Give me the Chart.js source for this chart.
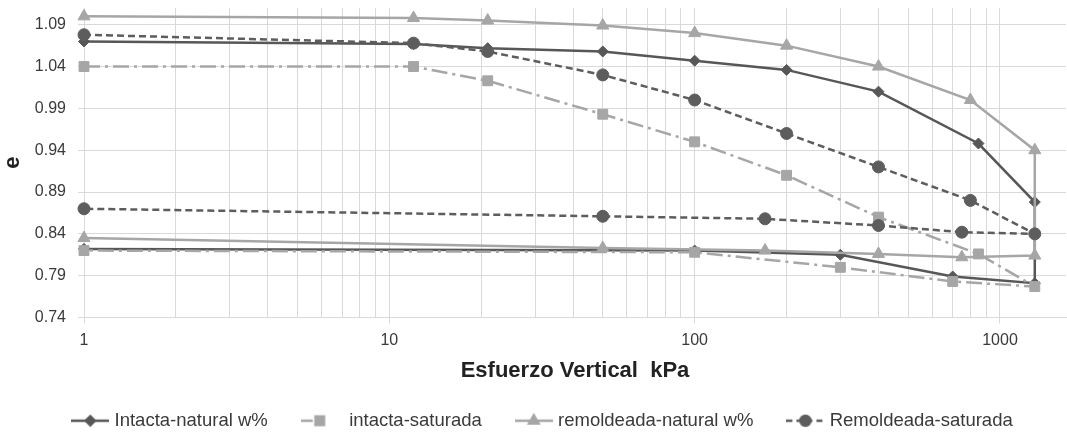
<!DOCTYPE html>
<html>
<head>
<meta charset="utf-8">
<script src="https://cdn.jsdelivr.net/npm/chart.js@4.4.1/dist/chart.umd.min.js"></script>
<style>
html,body{margin:0;padding:0;background:#fff;}
#wrap{width:1067px;height:432px;}
</style>
</head>
<body>
<div id="wrap"><canvas id="c" width="1067" height="432"></canvas></div>
<script>
// ---- data ----
const seriesNames = ['Intacta-natural w%', ' intacta-saturada', 'remoldeada-natural w%', 'Remoldeada-saturada'];

const xIntactaNatural = [1, 12, 21, 50, 100, 200, 400, 850, 1300, 1300, 700, 300, 100, 1];
const yIntactaNatural = [1.07, 1.067, 1.062, 1.058, 1.047, 1.036, 1.01, 0.948, 0.878, 0.781, 0.789, 0.815, 0.82, 0.822];

const xIntactaSaturada = [1, 12, 21, 50, 100, 200, 400, 850, 1300, 700, 300, 100, 1];
const yIntactaSaturada = [1.04, 1.04, 1.023, 0.983, 0.95, 0.91, 0.86, 0.816, 0.777, 0.783, 0.80, 0.818, 0.82];

const xRemoldeadaNatural = [1, 12, 21, 50, 100, 200, 400, 800, 1300, 1300, 750, 400, 170, 50, 1];
const yRemoldeadaNatural = [1.10, 1.098, 1.095, 1.089, 1.08, 1.065, 1.04, 1.0, 0.94, 0.814, 0.812, 0.816, 0.82, 0.823, 0.835];

const xRemoldeadaSaturada = [1, 12, 21, 50, 100, 200, 400, 800, 1300, 750, 400, 170, 50, 1];
const yRemoldeadaSaturada = [1.078, 1.068, 1.058, 1.03, 1.0, 0.96, 0.92, 0.88, 0.84, 0.842, 0.85, 0.858, 0.861, 0.87];

const yTickValues = [0.74, 0.79, 0.84, 0.89, 0.94, 0.99, 1.04, 1.09];
const xGridValues = [1, 2, 3, 4, 5, 6, 7, 8, 9, 10, 20, 30, 40, 50, 60, 70, 80, 90, 100, 200, 300, 400, 500, 600, 700, 800, 900, 1000];
const xTickLabels = [1, 10, 100, 1000];

const xTitle = 'Esfuerzo Vertical  kPa';
const yTitle = 'e';

// ---- styles ----
const DARK = '#575757';
const DARK2 = '#5d5d5d';
const LIGHT = '#a6a6a6';
const GRID = '#d9d9d9';
const TEXT = '#3a3a3a';

const pts = (xs, ys) => xs.map((x, i) => ({x: x, y: ys[i]}));

const styles = [
  {color: DARK, dash: [], point: 'rectRot', r: 5.5, lr: 4.5},
  {color: LIGHT, dash: [16, 5, 3, 5], point: 'rect', r: 7, lr: 6},
  {color: LIGHT, dash: [], point: 'triangle', r: 7, lr: 5.5},
  {color: DARK2, dash: [7, 4], point: 'circle', r: 6, lr: 5}
];

const ICON_W = 38;
function makeIcon(s, legendDash) {
  const c = document.createElement('canvas');
  c.width = ICON_W; c.height = 16;
  const g = c.getContext('2d');
  g.strokeStyle = s.color;
  g.lineWidth = 2.5;
  g.setLineDash(legendDash);
  g.beginPath(); g.moveTo(0, 8); g.lineTo(ICON_W, 8); g.stroke();
  g.setLineDash([]);
  g.fillStyle = s.color;
  g.strokeStyle = s.color;
  Chart.helpers.drawPoint(g, {pointStyle: s.point, radius: s.lr, borderWidth: 1, rotation: 0}, ICON_W / 2, 8);
  return c;
}
const legendDashes = [[], [12, 4, 2, 20], [], [6, 4]];
const icons = styles.map((s, i) => makeIcon(s, legendDashes[i]));

const seriesData = [
  pts(xIntactaNatural, yIntactaNatural),
  pts(xIntactaSaturada, yIntactaSaturada),
  pts(xRemoldeadaNatural, yRemoldeadaNatural),
  pts(xRemoldeadaSaturada, yRemoldeadaSaturada)
];

const datasets = seriesData.map((d, i) => ({
  label: seriesNames[i],
  data: d,
  borderColor: styles[i].color,
  backgroundColor: styles[i].color,
  borderWidth: 2.5,
  borderDash: styles[i].dash,
  pointStyle: styles[i].point,
  pointRadius: styles[i].r,
  pointHoverRadius: styles[i].r,
  pointBorderWidth: 1,
  pointBackgroundColor: styles[i].color,
  pointBorderColor: styles[i].color,
  tension: 0,
  fill: false,
  clip: false,
  order: 10 - i
}));

const legendShift = {
  id: 'legendShift',
  afterLayout(chart) {
    const lg = chart.legend;
    if (lg) { lg.top += 8; lg.bottom += 8; lg.left += 11; lg.right += 11; }
  }
};

new Chart(document.getElementById('c'), {
  type: 'line',
  data: {datasets: datasets},
  plugins: [legendShift],
  options: {
    responsive: false,
    animation: false,
    events: [],
    layout: {autoPadding: false, padding: {top: 8, right: 1, left: 0, bottom: 0}},
    plugins: {
      tooltip: {enabled: false},
      legend: {
        position: 'bottom',
        labels: {
          usePointStyle: true,
          pointStyleWidth: 30,
          padding: 37,
          color: TEXT,
          font: {family: "'Liberation Sans', Arial, sans-serif", size: 18.5},
          sort: (a, b) => a.datasetIndex - b.datasetIndex,
          generateLabels(chart) {
            const items = Chart.defaults.plugins.legend.labels.generateLabels(chart);
            items.forEach(it => { it.pointStyle = icons[it.datasetIndex]; it.rotation = 0; });
            return items;
          }
        }
      }
    },
    scales: {
      x: {
        type: 'logarithmic',
        min: 1,
        max: 1645,
        afterBuildTicks(scale) {
          scale.ticks = xGridValues.map(v => ({value: v, major: xTickLabels.includes(v)}));
        },
        afterFit(scale) {
          scale.height = 49;
          scale.paddingLeft = 0; scale.paddingRight = 0;
        },
        ticks: {
          autoSkip: false,
          maxRotation: 0,
          minRotation: 0,
          padding: 7,
          color: TEXT,
          font: {family: "'Liberation Sans', Arial, sans-serif", size: 16},
          callback: (v) => xTickLabels.includes(v) ? String(v) : ''
        },
        grid: {
          color: GRID,
          lineWidth: 1,
          tickLength: 6,
          tickColor: (ctx) => (ctx.tick && xTickLabels.includes(ctx.tick.value)) ? GRID : 'rgba(0,0,0,0)'
        },
        border: {color: GRID},
        title: {
          display: true,
          text: xTitle,
          color: '#222',
          font: {family: "'Liberation Sans Narrow', 'Liberation Sans', Arial, sans-serif", size: 22, weight: 'bold'},
          padding: {top: 0, bottom: -18}
        }
      },
      y: {
        type: 'linear',
        min: 0.74,
        max: 1.11,
        afterBuildTicks(scale) {
          scale.ticks = yTickValues.map(v => ({value: v}));
        },
        afterFit(scale) {
          scale.width = 84;
          scale.paddingTop = 0; scale.paddingBottom = 0;
        },
        ticks: {
          padding: 12,
          color: TEXT,
          font: {family: "'Liberation Sans', Arial, sans-serif", size: 16},
          callback: (v) => Number(v).toFixed(2)
        },
        grid: {color: GRID, lineWidth: 1, tickLength: 6, tickColor: GRID},
        border: {color: GRID},
        title: {
          display: true,
          text: yTitle,
          color: '#222',
          font: {family: "'Liberation Sans', Arial, sans-serif", size: 22, weight: 'bold'},
          padding: {top: 0, bottom: 0}
        }
      }
    }
  }
});
</script>
</body>
</html>
